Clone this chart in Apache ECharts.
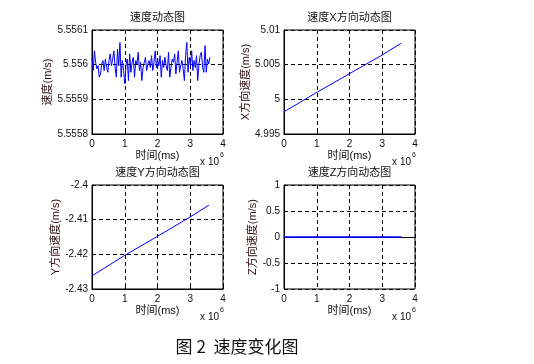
<!DOCTYPE html>
<html>
<head>
<meta charset="utf-8">
<script src="https://cdn.jsdelivr.net/npm/echarts@6/dist/echarts.min.js"></script>
<style>html,body{margin:0;padding:0;background:#fff;}#c{width:534px;height:364px;}</style>
</head>
<body>
<div id="c"></div>
<script>
// ---- data ----
var titles = ['速度动态图', '速度X方向动态图', '速度Y方向动态图', '速度Z方向动态图'];
var yNames = ['速度(m/s)', 'X方向速度(m/s)', 'Y方向速度(m/s)', 'Z方向速度(m/s)'];
var xName = '时间(ms)';
var caption = '图 2  速度变化图';
// speed magnitude: offsets from base value, in units of 1e-5 m/s
var speedBase = 5.556;
var speedOffsets = [2.1, -1.7, 4.0, 0.7, -1.2, -0.3, -3.6, -2.7, 0.2, 1.2, -1.7, 1.6, -0.8, -2.2, 1.2, 3.1,
  -0.3, 1.6, 4.0, -0.8, -3.6, 4.5, -0.3, 6.4, -3.6, 1.2, -1.7, -5.5, 0.2, 1.6, -4.6, 3.1, -2.2, 0.7, 2.1,
  -3.6, 1.2, 0.2, 3.6, -1.7, 0.7, -4.6, -0.8, 0.7, 2.1, -1.7, 0.2, 1.2, -0.8, 2.6, -1.7, 0.7, 4.0, -0.8,
  1.6, -0.3, 2.6, -3.6, 1.2, -0.8, 2.1, -0.3, -1.7, 3.6, -3.6, -0.8, 1.6, 0.7, 3.1, -2.7, 0.7, 4.0, -2.2,
  -0.3, 1.2, -1.2, -4.6, 2.6, 6.4, -2.2, 2.1, -0.3, 4.0, -1.7, 1.2, -0.8, 2.6, -4.6, 0.2, 2.6, 3.6, -0.8,
  -2.2, 5.5, -2.2, 1.6, 0.2, 2.1];
var speedEndTime = 3.6e6;
var vxPoints = [[0, 4.9982], [1.0e6, 5.0010], [2.0e6, 5.0037], [3.0e6, 5.0064], [3.58e6, 5.0081]];
var vyPoints = [[0, -2.4262], [1.0e6, -2.4203], [2.0e6, -2.4148], [3.0e6, -2.4092], [3.57e6, -2.4058]];
var vzPoints = [[0, 0], [3.58e6, 0]];
var xTicks = [0, 1, 2, 3, 4];
var yRanges = [
  {min: 5.5558, max: 5.5561, interval: 0.0001, dec: 4},
  {min: 4.995, max: 5.01, interval: 0.005, dec: 3},
  {min: -2.43, max: -2.4, interval: 0.01, dec: 2},
  {min: -1, max: 1, interval: 0.5, dec: 1}
];

// ---- build ----
var speedData = speedOffsets.map(function (o, i) {
  return [i * speedEndTime / (speedOffsets.length - 1), speedBase + o * 1e-5];
});
var seriesData = [speedData, vxPoints, vyPoints, vzPoints];

var boxes = [
  {left: 92, top: 30}, {left: 284, top: 30},
  {left: 92, top: 185}, {left: 284, top: 185}
];
var W = 131, H = 104;
var yNameGaps = [38, 33, 29, 25];
var FONT = "'Liberation Sans', Arial, 'Noto Sans CJK SC'";

var grids = [], xAxes = [], yAxes = [], series = [], graphics = [];
boxes.forEach(function (b, i) {
  grids.push({left: b.left, top: b.top, width: W, height: H, show: true,
    borderColor: '#000', borderWidth: 1, backgroundColor: '#fff'});
  xAxes.push({
    type: 'value', gridIndex: i, min: 0, max: 4e6, interval: 1e6,
    name: xName, nameLocation: 'middle', nameGap: 16,
    nameTextStyle: {fontSize: 11, color: '#111', fontFamily: FONT},
    axisLine: {show: true, lineStyle: {color: '#000'}},
    axisTick: {show: true, inside: true, length: 3, lineStyle: {color: '#000'}},
    axisLabel: {fontSize: 10, color: '#111', margin: 5, fontFamily: FONT,
      formatter: function (v) { return String(Math.round(v / 1e6)); }},
    splitLine: {show: true, lineStyle: {color: '#000', type: [4, 3], width: 1}}
  });
  var r = yRanges[i];
  yAxes.push({
    type: 'value', gridIndex: i, min: r.min, max: r.max, interval: r.interval,
    name: yNames[i], nameLocation: 'middle', nameRotate: 90, nameGap: yNameGaps[i],
    nameTextStyle: {fontSize: 11, color: '#2a0a0a', fontFamily: FONT},
    axisLine: {show: true, lineStyle: {color: '#000'}},
    axisTick: {show: true, inside: true, length: 3, lineStyle: {color: '#000'}},
    axisLabel: {fontSize: 10, color: '#111', margin: 4, fontFamily: FONT,
      formatter: function (v) { return String(parseFloat(v.toFixed(r.dec))); }},
    splitLine: {show: true, lineStyle: {color: '#000', type: [4, 3], width: 1}}
  });
  series.push({
    type: 'line', xAxisIndex: i, yAxisIndex: i, data: seriesData[i],
    showSymbol: false, symbol: 'none', animation: false,
    lineStyle: {color: '#0000ff', width: i === 3 ? 1.5 : 1}, z: 5
  });
  // title
  graphics.push({type: 'text', style: {text: titles[i], x: b.left + W / 2, y: b.top - 12,
    textAlign: 'center', textVerticalAlign: 'middle', font: "11px " + FONT, fill: '#111'}});
  // x 10^6 multiplier
  graphics.push({type: 'text', style: {text: 'x 10', x: b.left + W - 4, y: b.top + H + 28,
    textAlign: 'right', textVerticalAlign: 'middle', font: "10px " + FONT, fill: '#111'}});
  graphics.push({type: 'text', style: {text: '6', x: b.left + W - 3, y: b.top + H + 21,
    textAlign: 'left', textVerticalAlign: 'middle', font: "7px " + FONT, fill: '#111'}});
});
graphics.push({type: 'text', style: {text: caption, x: 237, y: 347,
  textAlign: 'center', textVerticalAlign: 'middle', font: "17px 'Noto Sans CJK SC'", fill: '#111'}});

var chart = echarts.init(document.getElementById('c'), null, {renderer: 'canvas'});
chart.setOption({
  animation: false,
  backgroundColor: '#fff',
  grid: grids, xAxis: xAxes, yAxis: yAxes, series: series, graphic: graphics
});
</script>
</body>
</html>
